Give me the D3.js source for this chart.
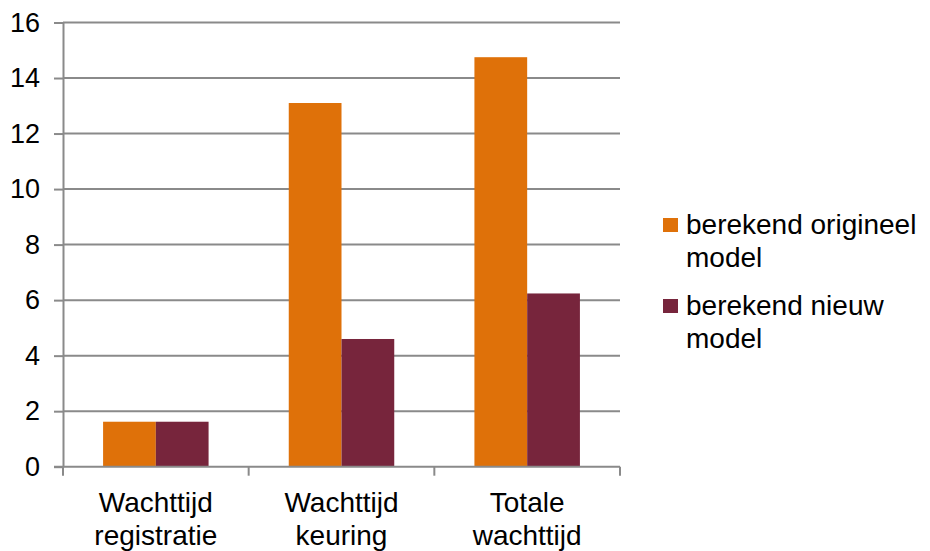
<!DOCTYPE html>
<html>
<head>
<meta charset="utf-8">
<script src="https://cdn.jsdelivr.net/npm/d3@7"></script>
<style>
  html, body { margin: 0; padding: 0; background: #fff; }
  svg { display: block; font-family: "Liberation Sans", Arial, sans-serif; }
</style>
</head>
<body>
<svg id="chart" width="930" height="551"></svg>
<script>
// Categories (each label split into two lines)
const categories = ["Wachttijd registratie", "Wachttijd keuring", "Totale wachttijd"];
const categoryLines = [["Wachttijd", "registratie"], ["Wachttijd", "keuring"], ["Totale", "wachttijd"]];

// Series
const seriesNames = ["berekend origineel model", "berekend nieuw model"];
const seriesLegendLines = [["berekend origineel", "model"], ["berekend nieuw", "model"]];
const seriesColors = ["#DF7109", "#77253C"];
const origineelValues = [1.62, 13.1, 14.75];
const nieuwValues = [1.62, 4.6, 6.24];

// Axis ticks
const yTicks = [0, 2, 4, 6, 8, 10, 12, 14, 16];

const svg = d3.select("#chart");
const gridColor = "#8A8A8A";

const plot = { left: 63, right: 620, top: 22.5, bottom: 466.7 };

const y = d3.scaleLinear().domain([0, 16]).range([plot.bottom, plot.top]);
const x0 = d3.scaleBand().domain(categories).range([plot.left, plot.right]).paddingInner(0).paddingOuter(0);
const x1 = d3.scaleBand().domain(seriesNames).range([0, x0.bandwidth()]).paddingInner(0).paddingOuter(0.76);

// Horizontal gridlines
svg.append("g")
  .selectAll("line")
  .data(yTicks.filter(d => d > 0))
  .join("line")
  .attr("x1", plot.left).attr("x2", plot.right)
  .attr("y1", d => y(d)).attr("y2", d => y(d))
  .attr("stroke", gridColor).attr("stroke-width", 2);

// Bars
const rows = categories.map((c, i) => ({ cat: c, vals: [origineelValues[i], nieuwValues[i]] }));
svg.append("g")
  .selectAll("g")
  .data(rows)
  .join("g")
  .attr("transform", d => `translate(${x0(d.cat)},0)`)
  .selectAll("rect")
  .data(d => d.vals.map((v, j) => ({ name: seriesNames[j], v, j })))
  .join("rect")
  .attr("x", d => x1(d.name))
  .attr("width", x1.bandwidth())
  .attr("y", d => y(d.v))
  .attr("height", d => y(0) - y(d.v))
  .attr("fill", d => seriesColors[d.j]);

// Y axis
const yAxis = svg.append("g")
  .attr("transform", `translate(${plot.left},0)`)
  .call(d3.axisLeft(y).tickValues(yTicks).tickSize(9).tickPadding(14).tickSizeOuter(0));
yAxis.select(".domain").attr("stroke", gridColor).attr("stroke-width", 2);
yAxis.selectAll(".tick line").attr("stroke", gridColor).attr("stroke-width", 2);
yAxis.selectAll(".tick text")
  .attr("font-size", 27).attr("fill", "#000")
  .attr("font-family", "'Liberation Sans', Arial, sans-serif");

// X axis: baseline and tick marks at category boundaries
const xg = svg.append("g");
xg.append("line")
  .attr("x1", plot.left - 9).attr("x2", plot.right)
  .attr("y1", y(0)).attr("y2", y(0))
  .attr("stroke", gridColor).attr("stroke-width", 2);
const boundaries = categories.map(c => x0(c)).concat([x0(categories[categories.length - 1]) + x0.bandwidth()]);
xg.selectAll("line.tk")
  .data(boundaries)
  .join("line")
  .attr("class", "tk")
  .attr("x1", d => d).attr("x2", d => d)
  .attr("y1", y(0)).attr("y2", y(0) + 9)
  .attr("stroke", gridColor).attr("stroke-width", 2);

// Category labels
const lab = xg.selectAll("text.cat")
  .data(categories)
  .join("text")
  .attr("class", "cat")
  .attr("text-anchor", "middle")
  .attr("font-size", 28)
  .attr("fill", "#000");
lab.each(function(d, i) {
  const t = d3.select(this);
  const cx = x0(d) + x0.bandwidth() / 2;
  categoryLines[i].forEach((line, k) => {
    t.append("tspan").attr("x", cx).attr("y", 512 + k * 32.5).text(line);
  });
});

// Legend
const legend = svg.append("g").attr("transform", "translate(663,0)");
const legendTops = [218, 299];
seriesNames.forEach((name, i) => {
  const g = legend.append("g").attr("transform", `translate(0,${legendTops[i]})`);
  g.append("rect").attr("width", 15).attr("height", 14).attr("fill", seriesColors[i]);
  const t = g.append("text").attr("font-size", 28).attr("fill", "#000");
  seriesLegendLines[i].forEach((line, k) => {
    t.append("tspan").attr("x", 23).attr("y", 16 + k * 33).text(line);
  });
});
</script>
</body>
</html>
